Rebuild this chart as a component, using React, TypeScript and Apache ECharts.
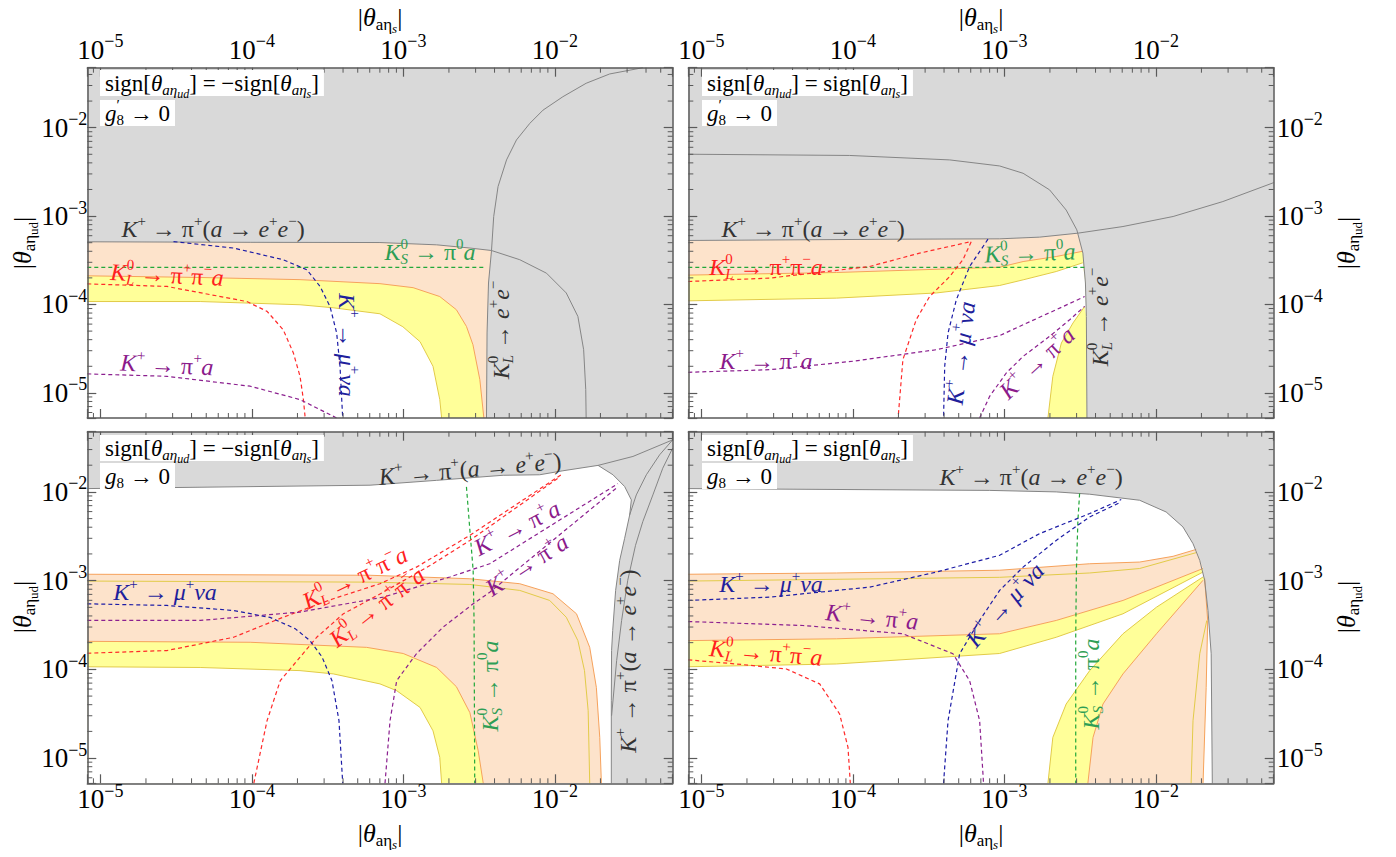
import React, { useEffect, useRef } from 'react';
import * as echarts from 'echarts';

type P = [number, number];

// axis extents (shared by all four panels)
const XMIN = 8.2e-6, XMAX = 0.06, YMIN = 5.2e-6, YMAX = 0.0477;
const FF = 'Liberation Serif, DejaVu Serif, serif';
const LS = 24; // in-plot label size

const COL = {
  gray: '#d9d9d9', grayLine: '#858585', peach: '#fde3cb', yellow: '#ffff99',
  orange: '#f6a25c', gold: '#e2cb48', frame: '#5a5a5a',
  red: '#ff2a2a', blue: '#1c1ca6', purple: '#8b1f8f', green: '#22a83a',
  tRed: '#ff2020', tBlue: '#1f1f9c', tPurple: '#8b1a8b', tGreen: '#2e9e55', tGray: '#333333',
};

// ---------------- Panel 0 (top-left): sign opposite, g8' -> 0
const tlEeA: P[] = [[XMIN, 5.12e-4], [9.75e-5, 5.05e-4], [7.01e-4, 5.02e-4], [1.66e-3, 4.73e-4], [2.75e-3, 4.35e-4], [3.82e-3, 4.08e-4]];
const tlEeB: P[] = [[3.82e-3, 4.08e-4], [5.87e-3, 3.21e-4], [8.81e-3, 2.26e-4], [1.19e-2, 1.35e-4], [1.42e-2, 7.33e-5], [1.55e-2, 3.08e-5], [1.6e-2, 1.09e-5], [1.61e-2, YMIN]];
const tlKLeeLow: P[] = [[3.54e-3, YMIN], [3.57e-3, 4.76e-5], [3.65e-3, 1.75e-4], [3.82e-3, 4.08e-4]];
const tlKLeeUp: P[] = [[3.82e-3, 4.08e-4], [3.95e-3, 9.9e-4], [4.22e-3, 2.16e-3], [4.8e-3, 4.32e-3], [5.58e-3, 7.26e-3], [6.84e-3, 1.12e-2], [8.36e-3, 1.58e-2], [1.13e-2, 2.24e-2], [1.61e-2, 3.18e-2], [2.3e-2, 4.05e-2], [3.81e-2, YMAX]];
const tlOrange: P[] = [[XMIN, 2.11e-4], [4.56e-5, 2.02e-4], [2.08e-4, 1.91e-4], [7.01e-4, 1.72e-4], [1.16e-3, 1.55e-4], [1.74e-3, 1.23e-4], [2.24e-3, 8.73e-5], [2.61e-3, 5.65e-5], [2.88e-3, 3.51e-5], [3.2e-3, 1.41e-5], [3.4e-3, YMIN]];
const tlYellowLow: P[] = [[XMIN, 1.08e-4], [4.56e-5, 1.08e-4], [2.08e-4, 9.93e-5], [3.44e-4, 9.18e-5], [7.01e-4, 7.85e-5], [9.93e-4, 5.6e-5], [1.29e-3, 3.79e-5], [1.57e-3, 2.0e-5], [1.74e-3, 8.4e-6], [1.79e-3, YMIN]];
const tlKS: P[] = [[XMIN, 2.63e-4], [3.5e-3, 2.63e-4]];
const tlKLpipi: P[] = [[XMIN, 1.71e-4], [2.75e-5, 1.6e-4], [9.27e-5, 1.08e-4], [1.26e-4, 8.36e-5], [1.61e-4, 5.19e-5], [1.88e-4, 2.83e-5], [2.08e-4, 1.54e-5], [2.19e-4, 8.4e-6], [2.25e-4, YMIN]];
const tlMuNu: P[] = [[3.04e-5, 5.15e-4], [7.57e-5, 4.35e-4], [1.61e-4, 3.21e-4], [2.31e-4, 2.47e-4], [2.82e-4, 1.6e-4], [3.28e-4, 9.5e-5], [3.63e-4, 4.76e-5], [3.82e-4, 2.0e-5], [3.92e-4, 8.4e-6], [3.98e-4, YMIN]];
const tlPiA: P[] = [[XMIN, 1.64e-5], [2.75e-5, 1.54e-5], [9.76e-5, 1.19e-5], [2.08e-4, 8.4e-6], [3.63e-4, YMIN]];

// ---------------- Panel 1 (top-right): sign equal, g8' -> 0
const trEeLowA: P[] = [[XMIN, 5.3e-4], [2.13e-4, 5.48e-4], [9.31e-4, 5.53e-4], [1.71e-3, 5.78e-4], [3.06e-3, 6.41e-4]];
const trEeLowB: P[] = [[3.06e-3, 6.41e-4], [6.07e-3, 7.62e-4], [1.3e-2, 9.89e-4], [2.77e-2, 1.46e-3], [XMAX, 2.39e-3]];
const trEeUpA: P[] = [[XMIN, 5.01e-3], [9.53e-5, 4.85e-3], [4.36e-4, 4.32e-3], [9.31e-4, 3.69e-3], [1.33e-3, 3.05e-3], [1.99e-3, 1.98e-3], [2.56e-3, 1.17e-3], [3.01e-3, 6.98e-4]];
const trVert: P[] = [[3.3e-3, 3.81e-4], [3.43e-3, 1.75e-4], [3.48e-3, 7.33e-5], [3.51e-3, YMIN]];
const trOrange: P[] = [[XMIN, 2.15e-4], [7.78e-5, 2.3e-4], [9.31e-4, 2.64e-4], [1.33e-3, 3.06e-4], [2.2e-3, 3.49e-4], [3.29e-3, 4.0e-4]];
const trYellowLow: P[] = [[XMIN, 1.1e-4], [7.78e-5, 1.18e-4], [3.56e-4, 1.35e-4], [9.31e-4, 1.64e-4], [1.33e-3, 1.9e-4], [2.2e-3, 2.36e-4], [3.29e-3, 2.96e-4]];
const trBlob: P[] = [[1.94e-3, YMIN], [2.09e-3, 1.54e-5], [2.38e-3, 3.67e-5], [2.84e-3, 6.18e-5], [3.39e-3, 9.51e-5]];
const trKS: P[] = [[XMIN, 2.63e-4], [3.43e-3, 2.63e-4]];
const trKLpipi: P[] = [[XMIN, 1.82e-4], [2.83e-5, 1.99e-4], [1.29e-4, 2.69e-4], [2.76e-4, 3.81e-4], [6.05e-4, 5.15e-4], [5.33e-4, 3.21e-4], [4.36e-4, 2.07e-4], [3.21e-4, 1.23e-4], [2.62e-4, 6.73e-5], [2.14e-4, 2.38e-5], [1.99e-4, YMIN]];
const trMuNu: P[] = [[7.8e-4, 5.48e-4], [5.9e-4, 2.69e-4], [4.82e-4, 1.13e-4], [4.25e-4, 4.76e-5], [4.04e-4, 2.0e-5], [3.97e-4, YMIN]];
const trPiA1: P[] = [[XMIN, 1.71e-5], [2.83e-5, 1.83e-5], [1.0e-4, 2.28e-5], [3.56e-4, 3.08e-5], [9.31e-4, 4.44e-5], [1.33e-3, 5.9e-5], [2.2e-3, 8.73e-5], [3.39e-3, 1.23e-4]];
const trPiA2: P[] = [[6.87e-4, YMIN], [8.0e-4, 9.14e-6], [1.03e-3, 1.68e-5], [1.33e-3, 2.59e-5], [1.99e-3, 4.36e-5], [2.7e-3, 6.73e-5], [3.39e-3, 9.51e-5]];

// ---------------- Panel 2 (bottom-left): sign opposite, g8 -> 0
const blTopA: P[] = [[XMIN, 1.09e-2], [6.03e-4, 1.19e-2], [1.66e-3, 1.35e-2], [4.56e-3, 1.54e-2], [7.94e-3, 1.56e-2], [1.13e-2, 1.73e-2], [1.93e-2, 1.99e-2]];
const blTopB: P[] = [[1.93e-2, 1.99e-2], [3.28e-2, 2.51e-2], [XMAX, 3.86e-2]];
const blRight: P[] = [[1.93e-2, 1.99e-2], [2.42e-2, 1.56e-2], [2.89e-2, 1.15e-2], [3.2e-2, 8.13e-3], [3.12e-2, 5.5e-3], [2.89e-2, 3.0e-3], [2.68e-2, 1.69e-3], [2.52e-2, 7.76e-4], [2.41e-2, 2.74e-4], [2.37e-2, 1.63e-4], [2.36e-2, 4.44e-5], [2.36e-2, YMIN]];
const blCorner1: P[] = [[XMAX, 3.86e-2], [4.92e-2, 2.62e-2], [4.02e-2, 1.56e-2], [3.45e-2, 9.25e-3], [3.12e-2, 5.5e-3]];
const blCorner2: P[] = [[XMAX, 3.12e-2], [5.16e-2, 1.85e-2], [4.44e-2, 9.25e-3], [3.81e-2, 4.63e-3], [3.41e-2, 2.5e-3], [3.03e-2, 1.01e-3], [2.76e-2, 3.56e-4], [2.56e-2, 1.26e-4], [2.37e-2, 3.0e-5]];
const blOrangeOuter: P[] = [[XMIN, 1.18e-3], [6.03e-4, 1.15e-3], [2.75e-3, 1.05e-3], [5.87e-3, 9.23e-4], [9.73e-3, 7.11e-4], [1.39e-2, 4.23e-4], [1.7e-2, 1.77e-4], [1.88e-2, 6.27e-5], [1.98e-2, 1.71e-5], [2.03e-2, YMIN]];
const blYellowThin: P[] = [[XMIN, 9.89e-4], [6.03e-4, 9.62e-4], [2.75e-3, 9.06e-4], [5.87e-3, 7.76e-4], [9.25e-3, 5.98e-4], [1.19e-2, 3.87e-4], [1.42e-2, 2.11e-4], [1.57e-2, 9.68e-5], [1.66e-2, 3.42e-5], [1.7e-2, YMIN]];
const blOrangeInner: P[] = [[XMIN, 2.07e-4], [9.75e-5, 2.02e-4], [5.73e-4, 1.77e-4], [9.98e-4, 1.51e-4], [1.66e-3, 1.05e-4], [2.24e-3, 6.38e-5], [2.75e-3, 3.25e-5], [3.12e-3, 1.21e-5], [3.37e-3, YMIN]];
const blYellowLow: P[] = [[XMIN, 1.07e-4], [4.56e-5, 1.05e-4], [2.08e-4, 9.68e-5], [3.45e-4, 8.89e-5], [7.01e-4, 6.86e-5], [9.04e-4, 5.75e-5], [1.29e-3, 3.72e-5], [1.57e-3, 2.03e-5], [1.74e-3, 1.02e-5], [1.79e-3, YMIN]];
const blKS: P[] = [[2.61e-3, 1.14e-2], [2.75e-3, 3.69e-3], [2.89e-3, 1.31e-3], [2.93e-3, 3.56e-4], [2.96e-3, YMIN]];
const blKL1: P[] = [[XMIN, 1.52e-4], [2.75e-5, 1.63e-4], [7.57e-5, 2.3e-4], [1.61e-4, 3.87e-4], [3.45e-4, 6.25e-4], [7.01e-4, 9.23e-4], [1.22e-3, 1.42e-3], [2.75e-3, 3.24e-3], [1.13e-2, 1.61e-2]];
const blKL2: P[] = [[1.03e-4, YMIN], [1.26e-4, 2.64e-5], [1.54e-4, 7.45e-5], [2.08e-4, 1.37e-4], [2.68e-4, 2.3e-4], [4.02e-4, 4.23e-4], [7.38e-4, 7.41e-4], [1.57e-3, 1.55e-3], [2.75e-3, 2.84e-3], [1.08e-2, 1.48e-2]];
const blPiA1: P[] = [[XMIN, 3.56e-4], [4.56e-5, 3.56e-4], [2.08e-4, 4.42e-4], [7.38e-4, 6.52e-4], [2.03e-3, 1.1e-3], [3.72e-3, 1.55e-3], [2.61e-2, 1.24e-2]];
const blPiA2: P[] = [[7.57e-4, YMIN], [8.17e-4, 2.64e-5], [9.04e-4, 7.46e-5], [1.22e-3, 1.5e-4], [1.83e-3, 2.99e-4], [2.89e-3, 5.48e-4], [3.72e-3, 7.41e-4], [2.61e-2, 1.14e-2]];
const blMuNu: P[] = [[XMIN, 5.48e-4], [2.75e-5, 5.25e-4], [7.57e-5, 4.61e-4], [1.32e-4, 3.85e-4], [1.93e-4, 2.88e-4], [2.42e-4, 2.11e-4], [2.9e-4, 1.39e-4], [3.38e-4, 7.46e-5], [3.76e-4, 2.64e-5], [3.98e-4, YMIN]];

// ---------------- Panel 3 (bottom-right): sign equal, g8 -> 0
const brTop: P[] = [[XMIN, 1.09e-2], [8.0e-4, 1.04e-2], [2.2e-3, 1.0e-2], [3.66e-3, 9.42e-3], [7.82e-3, 8.05e-3], [1.17e-2, 5.94e-3], [1.51e-2, 4.03e-3], [1.76e-2, 2.61e-3], [1.95e-2, 1.69e-3], [2.1e-2, 1.01e-3], [2.21e-2, 4.61e-4], [2.32e-2, 1.5e-4], [2.36e-2, YMIN]];
const brOrangeTop: P[] = [[XMIN, 1.18e-3], [7.78e-5, 1.22e-3], [9.31e-4, 1.31e-3], [3.66e-3, 1.55e-3], [7.82e-3, 1.62e-3], [1.3e-2, 1.88e-3], [1.85e-2, 2.25e-3]];
const brYellowThin: P[] = [[XMIN, 9.89e-4], [9.31e-4, 1.09e-3], [3.66e-3, 1.22e-3], [7.82e-3, 1.37e-3], [1.85e-2, 2.07e-3]];
const brOrangeMid: P[] = [[XMIN, 2.11e-4], [7.78e-5, 2.21e-4], [9.31e-4, 2.52e-4], [2.2e-3, 3.56e-4], [6.07e-3, 5.98e-4], [2.05e-2, 1.37e-3]];
const brYellowLow: P[] = [[XMIN, 1.07e-4], [7.78e-5, 1.15e-4], [9.31e-4, 1.51e-4], [2.2e-3, 2.3e-4], [6.07e-3, 4.23e-4], [2.05e-2, 1.25e-3]];
const brBlobYellowEdge: P[] = [[1.94e-3, YMIN], [2.09e-3, 1.71e-5], [2.56e-3, 4.07e-5], [3.66e-3, 9.68e-5], [6.07e-3, 2.52e-4], [1.01e-2, 5.02e-4], [2.05e-2, 1.1e-3]];
const brBlobOrangeEdge: P[] = [[3.56e-3, YMIN], [3.85e-3, 1.71e-5], [4.48e-3, 4.07e-5], [6.07e-3, 8.89e-5], [1.01e-2, 2.52e-4], [2.05e-2, 1.01e-3]];
const brBlobRight: P[] = [[2.1e-2, 1.06e-3], [2.2e-2, 3.56e-4], [2.15e-2, 6.27e-5], [2.05e-2, YMIN]];
const brBlobThin: P[] = [[1.71e-2, YMIN], [1.76e-2, 2.64e-5], [1.95e-2, 1.5e-4], [2.17e-2, 3.56e-4]];
const brKS: P[] = [[3.14e-3, 9.59e-3], [3.06e-3, 4.79e-3], [2.99e-3, 1.31e-3], [2.96e-3, 2.3e-4], [2.96e-3, YMIN]];
const brMuNu1: P[] = [[XMIN, 5.98e-4], [2.83e-5, 6.52e-4], [1.29e-4, 8.45e-4], [3.56e-4, 1.25e-3], [9.31e-4, 1.93e-3], [1.71e-3, 3.39e-3], [3.66e-3, 5.7e-3], [5.91e-3, 8.2e-3]];
const brMuNu2: P[] = [[3.97e-4, YMIN], [4.25e-4, 2.64e-5], [5.07e-4, 1.5e-4], [6.87e-4, 3.56e-4], [9.31e-4, 7.76e-4], [1.33e-3, 1.42e-3], [2.2e-3, 2.84e-3], [3.66e-3, 5.22e-3], [5.91e-3, 7.71e-3]];
const brPiA: P[] = [[XMIN, 3.46e-4], [4.69e-5, 3.12e-4], [2.14e-4, 2.52e-4], [4.58e-4, 1.5e-4], [5.9e-4, 7.46e-5], [6.87e-4, 2.64e-5], [7.29e-4, YMIN]];
const brKL: P[] = [[XMIN, 1.28e-4], [1.7e-5, 1.15e-4], [3.64e-5, 1.01e-4], [6.04e-5, 6.86e-5], [8.18e-5, 3.14e-5], [9.29e-5, 1.32e-5], [9.62e-5, YMIN]];

// minor tick positions (2..9 times each decade)
const MULTS = [2, 3, 4, 5, 6, 7, 8, 9];
const DECADES = [1e-6, 1e-5, 1e-4, 1e-3, 1e-2];
const MINOR_X = DECADES.flatMap((d) => MULTS.map((m) => m * d)).filter((v) => v > XMIN * 1.001 && v < XMAX * 0.999);
const MINOR_Y = DECADES.flatMap((d) => MULTS.map((m) => m * d)).filter((v) => v > YMIN * 1.001 && v < YMAX * 0.999);

// texts
const T_EE = '{i|K}{p|+}{n| → }{n|π}{p|+}{n|(}{i|a}{n| → }{i|e}{p|+}{i|e}{p|−}{n|)}';
const T_KLPP = '{i|K}{pz|0}{b|L}{n| → }{n|π}{p|+}{n|π}{p|−}{i|a}';
const T_MUNU = '{i|K}{p|+}{n| → }{i|μ}{p|+}{i|νa}';
const T_PIA = '{i|K}{p|+}{n| → }{n|π}{p|+}{i|a}';
const T_KS = '{i|K}{pz|0}{b|S}{n| → }{n|π}{p|0}{i|a}';
const T_KLEE = '{i|K}{pz|0}{b|L}{n| → }{i|e}{p|+}{i|e}{p|−}';
const T_SIGN_NEG = '{n|sign[}{i|θ}{b|aη}{bb|ud}{n|] = −sign[}{i|θ}{b|aη}{bb|s}{n|]}';
const T_SIGN_POS = '{n|sign[}{i|θ}{b|aη}{bb|ud}{n|] = sign[}{i|θ}{b|aη}{bb|s}{n|]}';
const T_G8P = '{i|g}{pz|′}{bn|8}{n| → 0}';
const T_G8 = '{i|g}{bn|8}{n| → 0}';
const T_XT = '{n||}{i|θ}{bn|aη}{bb|s}{n||}';
const T_YT = '{n||}{i|θ}{bn|aη}{bbn|ud}{n||}';

const GRIDS = [
  { left: 87.3, top: 67.7, width: 585.4, height: 350.3 },
  { left: 688.3, top: 67.7, width: 585.4, height: 350.3 },
  { left: 87.3, top: 431.7, width: 585.4, height: 351.6 },
  { left: 688.3, top: 431.7, width: 585.4, height: 351.6 },
];

function richSet(s: number) {
  const f = (st: string, size: number) => `${st} ${size}px ${FF}`.trim();
  const sp = Math.round(s * 0.64);
  const ss = Math.round(s * 0.5);
  const lh = Math.round(s * 1.1);
  return {
    n: { font: f('', s), align: 'left', lineHeight: lh },
    i: { font: f('italic', s), align: 'left', lineHeight: lh },
    p: { font: f('', sp), padding: [0, 0, Math.round(s * 0.66), 0], align: 'left', lineHeight: lh },
    pz: { font: f('', sp), padding: [0, 0, Math.round(s * 0.72), 0], width: 0, align: 'left', lineHeight: lh },
    b: { font: f('italic', sp), padding: [Math.round(s * 0.55), 0, 0, 0], align: 'left', lineHeight: lh },
    bn: { font: f('', sp), padding: [Math.round(s * 0.55), 0, 0, 0], align: 'left', lineHeight: lh },
    bb: { font: f('italic', ss), padding: [Math.round(s * 0.85), 0, 0, 0], align: 'left', lineHeight: lh },
    bbn: { font: f('', ss), padding: [Math.round(s * 0.85), 0, 0, 0], align: 'left', lineHeight: lh },
  };
}

function label(x: number, y: number, text: string, fill: string, rotDeg = 0, size = LS, extra: any = {}) {
  return {
    type: 'text', x, y, rotation: (rotDeg * Math.PI) / 180, z: 100, silent: true,
    style: { text, rich: richSet(size), fill, align: 'center', verticalAlign: 'middle', ...extra },
  };
}
function box(x: number, y: number, text: string) {
  return label(x, y, text, '#000', 0, 23, { align: 'left', verticalAlign: 'top', backgroundColor: '#ffffff', padding: [1, 5, 0, 5] });
}

function tickFmt(v: number) {
  const e = Math.log10(v);
  const r = Math.round(e);
  if (Math.abs(e - r) > 1e-6) return '';
  return `{b|10}{s|${r < 0 ? '−' : ''}${Math.abs(r)}}`;
}
const tickRich = {
  b: { fontFamily: FF, fontSize: 27, lineHeight: 32, color: '#000' },
  s: { fontFamily: FF, fontSize: 18, lineHeight: 32, padding: [0, 0, 17, 0], color: '#000' },
};

function xAx(g: number, pos: 'bottom' | 'top', show: boolean) {
  return {
    type: 'log', logBase: 10, gridIndex: g, position: pos, min: XMIN, max: XMAX, z: 8,
    axisLine: { show: true, onZero: false, lineStyle: { color: COL.frame, width: 1.5 } },
    axisTick: { show: true, inside: true, length: 9, lineStyle: { color: COL.frame, width: 1.2 } },
    splitLine: { show: false }, minorTick: { show: false },
    axisLabel: { show, margin: pos === 'top' ? 2 : 0, formatter: tickFmt, rich: tickRich, fontFamily: FF },
  };
}
function yAx(g: number, pos: 'left' | 'right', show: boolean) {
  return {
    type: 'log', logBase: 10, gridIndex: g, position: pos, min: YMIN, max: YMAX, z: 8,
    axisLine: { show: true, onZero: false, lineStyle: { color: COL.frame, width: 1.5 } },
    axisTick: { show: true, inside: true, length: 9, lineStyle: { color: COL.frame, width: 1.2 } },
    splitLine: { show: false }, minorTick: { show: false },
    axisLabel: { show, margin: pos === 'left' ? 0 : 3, formatter: tickFmt, rich: tickRich, fontFamily: FF },
  };
}

function poly(g: number, pts: P[], fill: string) {
  return {
    type: 'custom', xAxisIndex: 2 * g, yAxisIndex: 2 * g, z: 2, silent: true, clip: true,
    data: [pts[0]],
    renderItem: (_p: any, api: any) => ({
      type: 'polygon', shape: { points: pts.map((q) => api.coord(q)) }, style: { fill, stroke: 'none' },
    }),
  };
}
function ln(g: number, pts: P[], color: string, dashed = false, width = 1, z = 3) {
  return {
    type: 'line', xAxisIndex: 2 * g, yAxisIndex: 2 * g, data: pts, symbol: 'none', showSymbol: false,
    silent: true, z, clip: true, emphasis: { disabled: true },
    lineStyle: { color, width, type: dashed ? [4, 3] : 'solid' },
  };
}
function minorTicks(g: number) {
  const st = { stroke: COL.frame, lineWidth: 1 };
  return [
    {
      type: 'custom', xAxisIndex: 2 * g, yAxisIndex: 2 * g, z: 7, silent: true,
      data: MINOR_X.map((v) => [v, YMIN]),
      renderItem: (_p: any, api: any) => {
        const v = api.value(0);
        const b = api.coord([v, YMIN]);
        const t = api.coord([v, YMAX]);
        return {
          type: 'group', children: [
            { type: 'line', shape: { x1: b[0], y1: b[1], x2: b[0], y2: b[1] - 5 }, style: st },
            { type: 'line', shape: { x1: t[0], y1: t[1], x2: t[0], y2: t[1] + 5 }, style: st },
          ],
        };
      },
    },
    {
      type: 'custom', xAxisIndex: 2 * g, yAxisIndex: 2 * g, z: 7, silent: true,
      data: MINOR_Y.map((v) => [XMIN, v]),
      renderItem: (_p: any, api: any) => {
        const v = api.value(1);
        const l = api.coord([XMIN, v]);
        const r = api.coord([XMAX, v]);
        return {
          type: 'group', children: [
            { type: 'line', shape: { x1: l[0], y1: l[1], x2: l[0] + 5, y2: l[1] }, style: st },
            { type: 'line', shape: { x1: r[0], y1: r[1], x2: r[0] - 5, y2: r[1] }, style: st },
          ],
        };
      },
    },
  ];
}

function buildOption() {
  const rev = (a: P[]) => a.slice().reverse();
  const series: any[] = [
    // ---- panel 0
    poly(0, [[XMIN, YMIN], ...tlEeA, ...rev(tlKLeeLow.slice(0, -1))], COL.peach),
    poly(0, [[XMIN, YMIN], ...tlOrange], COL.yellow),
    poly(0, [[XMIN, YMIN], ...tlYellowLow], '#ffffff'),
    ln(0, tlOrange, COL.orange),
    ln(0, tlYellowLow, COL.gold),
    ln(0, [...tlEeA, ...tlEeB.slice(1)], COL.grayLine),
    ln(0, [...tlKLeeLow, ...tlKLeeUp.slice(1)], COL.grayLine),
    ln(0, tlKS, COL.green, true, 1.2, 4),
    ln(0, tlKLpipi, COL.red, true, 1.2, 4),
    ln(0, tlMuNu, COL.blue, true, 1.2, 4),
    ln(0, tlPiA, COL.purple, true, 1.2, 4),
    // ---- panel 1
    poly(1, [[XMIN, YMIN], ...trEeLowA, ...trVert], COL.peach),
    poly(1, [[XMIN, YMIN], ...trOrange, ...trVert.slice(1)], COL.yellow),
    poly(1, [[XMIN, YMIN], ...trYellowLow, ...trVert.slice(1)], '#ffffff'),
    poly(1, [...trBlob, ...trVert.slice(2)], COL.yellow),
    ln(1, trOrange, COL.orange),
    ln(1, trYellowLow, COL.gold),
    ln(1, trBlob, COL.gold),
    ln(1, [...trEeLowA, ...trEeLowB.slice(1)], COL.grayLine),
    ln(1, [...trEeUpA, ...trVert], COL.grayLine),
    ln(1, trKS, COL.green, true, 1.2, 4),
    ln(1, trKLpipi, COL.red, true, 1.2, 4),
    ln(1, trMuNu, COL.blue, true, 1.2, 4),
    ln(1, trPiA1, COL.purple, true, 1.2, 4),
    ln(1, trPiA2, COL.purple, true, 1.2, 4),
    // ---- panel 2
    poly(2, [[XMIN, YMIN], ...blTopA, ...blRight.slice(1)], '#ffffff'),
    poly(2, [[XMIN, YMIN], ...blOrangeOuter], COL.peach),
    poly(2, [[XMIN, YMIN], ...blOrangeInner], COL.yellow),
    poly(2, [[XMIN, YMIN], ...blYellowLow], '#ffffff'),
    ln(2, blOrangeOuter, COL.orange),
    ln(2, blYellowThin, COL.gold),
    ln(2, blOrangeInner, COL.orange),
    ln(2, blYellowLow, COL.gold),
    ln(2, [...blTopA, ...blTopB.slice(1)], COL.grayLine),
    ln(2, blRight, COL.grayLine),
    ln(2, blCorner1, COL.grayLine),
    ln(2, blCorner2, COL.grayLine),
    ln(2, blKS, COL.green, true, 1.2, 4),
    ln(2, blKL1, COL.red, true, 1.2, 4),
    ln(2, blKL2, COL.red, true, 1.2, 4),
    ln(2, blPiA1, COL.purple, true, 1.2, 4),
    ln(2, blPiA2, COL.purple, true, 1.2, 4),
    ln(2, blMuNu, COL.blue, true, 1.2, 4),
    // ---- panel 3
    poly(3, [[XMIN, YMIN], ...brTop], '#ffffff'),
    poly(3, [...brOrangeTop, ...rev(brOrangeMid)], COL.peach),
    poly(3, [...brOrangeMid, ...rev(brYellowLow)], COL.yellow),
    poly(3, [...brBlobYellowEdge, ...brBlobRight], COL.yellow),
    poly(3, [...brBlobOrangeEdge, ...brBlobRight], COL.peach),
    ln(3, brOrangeTop, COL.orange),
    ln(3, brYellowThin, COL.gold),
    ln(3, brOrangeMid, COL.orange),
    ln(3, brYellowLow, COL.gold),
    ln(3, brBlobYellowEdge, COL.gold),
    ln(3, brBlobOrangeEdge, COL.orange),
    ln(3, brBlobRight, COL.orange),
    ln(3, brBlobThin, COL.gold),
    ln(3, brTop, COL.grayLine),
    ln(3, brKS, COL.green, true, 1.2, 4),
    ln(3, brMuNu1, COL.blue, true, 1.2, 4),
    ln(3, brMuNu2, COL.blue, true, 1.2, 4),
    ln(3, brPiA, COL.purple, true, 1.2, 4),
    ln(3, brKL, COL.red, true, 1.2, 4),
    ...minorTicks(0), ...minorTicks(1), ...minorTicks(2), ...minorTicks(3),
  ];

  const graphic: any[] = [
    // axis titles
    label(380, 17, T_XT, '#000', 0, 26), label(981, 17, T_XT, '#000', 0, 26),
    label(380, 833, T_XT, '#000', 0, 26), label(981, 833, T_XT, '#000', 0, 26),
    label(22, 243, T_YT, '#000', 90, 26), label(22, 607, T_YT, '#000', 90, 26),
    label(1346, 243, T_YT, '#000', 90, 26), label(1346, 607, T_YT, '#000', 90, 26),
    // panel 0
    box(100, 70, T_SIGN_NEG), box(100, 100, T_G8P),
    label(213, 229, T_EE, COL.tGray),
    label(167, 275, T_KLPP, COL.tRed, -3),
    label(167, 365, T_PIA, COL.tPurple, -3),
    label(347, 345, T_MUNU, COL.tBlue, -90),
    label(430, 252, T_KS, COL.tGreen),
    label(501, 330, T_KLEE, COL.tGray, 90),
    // panel 1
    box(702, 70, T_SIGN_POS), box(702, 100, T_G8P),
    label(813, 229, T_EE, COL.tGray),
    label(766, 267, T_KLPP, COL.tRed),
    label(1030, 253, T_KS, COL.tGreen, 2),
    label(766, 361, T_PIA, COL.tPurple),
    label(961, 353, T_MUNU, COL.tBlue, 83),
    label(1037, 363, T_PIA, COL.tPurple, 43),
    label(1100, 317, T_KLEE, COL.tGray, 90),
    // panel 2
    box(100, 435, T_SIGN_NEG), box(100, 463, T_G8),
    label(470, 469, T_EE, COL.tGray, 5),
    label(627.5, 661, T_EE, COL.tGray, 90),
    label(165, 592, T_MUNU, COL.tBlue),
    label(355, 578, T_KLPP, COL.tRed, 26),
    label(377, 607, T_KLPP, COL.tRed, 38),
    label(517, 528, T_PIA, COL.tPurple, 27),
    label(527, 565, T_PIA, COL.tPurple, 33),
    label(490, 686, T_KS, COL.tGreen, 90),
    // panel 3
    box(702, 435, T_SIGN_POS), box(702, 463, T_G8),
    label(1031, 477, T_EE, COL.tGray),
    label(771, 584, T_MUNU, COL.tBlue),
    label(872, 617, T_PIA, COL.tPurple, -6),
    label(766, 653, T_KLPP, COL.tRed, -5),
    label(1005, 605, T_MUNU, COL.tBlue, 48),
    label(1091, 684, T_KS, COL.tGreen, 90),
  ];

  return {
    animation: false,
    backgroundColor: '#ffffff',
    textStyle: { fontFamily: FF },
    grid: GRIDS.map((g) => ({ ...g, show: true, backgroundColor: COL.gray, borderWidth: 0, containLabel: false })),
    xAxis: [0, 1, 2, 3].flatMap((g) => [xAx(g, 'bottom', g >= 2), xAx(g, 'top', g < 2)]),
    yAxis: [0, 1, 2, 3].flatMap((g) => [yAx(g, 'left', g % 2 === 0), yAx(g, 'right', g % 2 === 1)]),
    series,
    graphic,
  };
}

export default function App() {
  const ref = useRef<HTMLDivElement>(null);
  useEffect(() => {
    const chart = echarts.init(ref.current as HTMLDivElement, null, { renderer: 'svg' });
    chart.setOption(buildOption() as any);
    return () => chart.dispose();
  }, []);
  return <div ref={ref} style={{ position: 'absolute', left: 0, top: 0, width: 1396, height: 857, background: '#fff', fontFamily: FF }} />;
}
